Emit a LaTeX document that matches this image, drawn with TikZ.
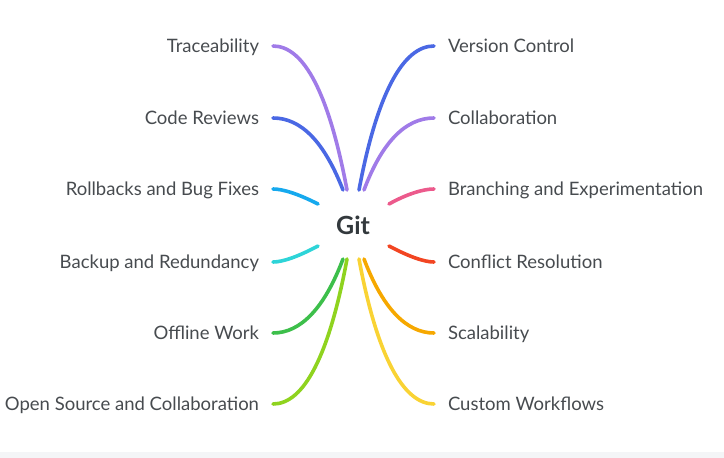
\documentclass[tikz,border=0pt]{standalone}
\usepackage{fontspec}
\setmainfont{Lato}
\usepackage{xcolor}
\definecolor{txtgray}{HTML}{474B4F}
\definecolor{gitgray}{HTML}{33393D}
\definecolor{stripgray}{HTML}{F4F5F7}
\definecolor{lilac}{HTML}{A07BE8}
\definecolor{royal}{HTML}{4A68E4}
\definecolor{sky}{HTML}{16A9EE}
\definecolor{rose}{HTML}{EC5A8C}
\definecolor{aqua}{HTML}{2ED4D8}
\definecolor{tomato}{HTML}{F24522}
\definecolor{leaf}{HTML}{3DBF4B}
\definecolor{lime}{HTML}{8FD31F}
\definecolor{amber}{HTML}{F6A800}
\definecolor{sun}{HTML}{F9D334}

\begin{document}
\begin{tikzpicture}[x=1pt,y=1pt,
  lbl/.style={text=txtgray,font=\fontsize{18.5}{22}\selectfont,inner sep=0pt,outer xsep=14pt,text height=17pt,text depth=4pt},
  branch/.style={line width=3.6pt,line cap=round},
  far/.style={out distance=98pt,in distance=31pt},
  mid/.style={out distance=52pt,in distance=28pt},
  near/.style={out distance=22pt,in distance=10pt}]
\useasboundingbox (0,0) rectangle (724,-458);
\fill[stripgray] (0,-452) rectangle (724,-458);
\node [font=\fontsize{25}{29}\selectfont\bfseries,text=gitgray] (git) at (353,-225){Git};
% left side
\node [lbl,anchor=east] (trace) at (273,-46){Traceability};
\node [lbl,anchor=east] (review) at (273,-118){Code Reviews};
\node [lbl,anchor=east] (rollback) at (273,-189){Rollbacks and Bug Fixes};
\node [lbl,anchor=east] (backup) at (273,-262){Backup and Redundancy};
\node [lbl,anchor=east] (offline) at (273,-333){Offline Work};
\node [lbl,anchor=east] (opensrc) at (273,-404){Open Source and Collaboration};
% right side
\node [lbl,anchor=west] (version) at (434,-46){Version Control};
\node [lbl,anchor=west] (collab) at (434,-118){Collaboration};
\node [lbl,anchor=west] (branching) at (434,-189){Branching and Experimentation};
\node [lbl,anchor=west] (conflict) at (434,-262){Conflict Resolution};
\node [lbl,anchor=west] (scale) at (434,-333){Scalability};
\node [lbl,anchor=west] (custom) at (434,-404){Custom Workflows};
% ends near the root
\coordinate (l1) at (347,-190);
\coordinate (l2) at (343,-190);
\coordinate (l3) at (318,-204);
\coordinate (l4) at (318,-246);
\coordinate (l5) at (343,-259);
\coordinate (l6) at (347,-259);
\coordinate (r1) at (359,-190);
\coordinate (r2) at (364,-190);
\coordinate (r3) at (389,-204);
\coordinate (r4) at (389,-246);
\coordinate (r5) at (364,-259);
\coordinate (r6) at (359,-259);
\draw[branch,lilac] (l1) to[out=100.6,in=0,far] (trace.east);
\draw[branch,royal] (l2) to[out=111.3,in=0,mid] (review.east);
\draw[branch,sky] (l3) to[out=153,in=0,near] (rollback.east);
\draw[branch,aqua] (l4) to[out=-152,in=0,near] (backup.east);
\draw[branch,leaf] (l5) to[out=-110.7,in=0,mid] (offline.east);
\draw[branch,lime] (l6) to[out=-100.5,in=0,far] (opensrc.east);
\draw[branch,royal] (r1) to[out=79.4,in=180,far] (version.west);
\draw[branch,lilac] (r2) to[out=69.4,in=180,mid] (collab.west);
\draw[branch,rose] (r3) to[out=29,in=180,near] (branching.west);
\draw[branch,tomato] (r4) to[out=-28,in=180,near] (conflict.west);
\draw[branch,amber] (r5) to[out=-69.3,in=180,mid] (scale.west);
\draw[branch,sun] (r6) to[out=-79.5,in=180,far] (custom.west);
\end{tikzpicture}
\end{document}
